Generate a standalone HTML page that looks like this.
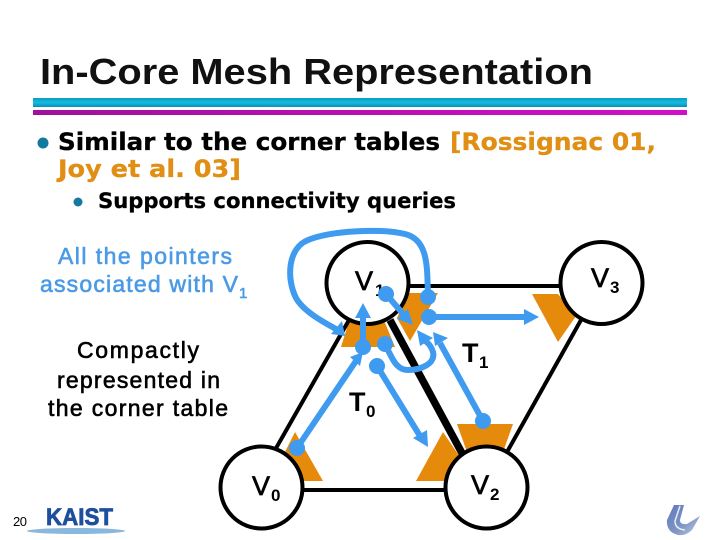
<!DOCTYPE html>
<html><head><meta charset="utf-8"><style>
html,body{margin:0;padding:0;background:#fff;width:720px;height:540px;overflow:hidden}
svg{display:block}
.v{font-family:"Liberation Sans",sans-serif;font-weight:bold;fill:#000}
.n{font-family:"Liberation Sans",sans-serif;font-weight:normal;fill:#000;stroke:#000;stroke-width:.7}
.d{font-family:"DejaVu Sans",sans-serif;font-weight:bold;stroke-width:.3}
.l{font-family:"Liberation Sans",sans-serif;stroke-width:.6}
</style></head><body>
<svg width="720" height="540" viewBox="0 0 720 540" xmlns="http://www.w3.org/2000/svg">
<defs>
<linearGradient id="c" x1="0" y1="0" x2="0" y2="1"><stop offset="0" stop-color="#0a9cc0"/><stop offset=".5" stop-color="#16bbe0"/><stop offset="1" stop-color="#0a90b8"/></linearGradient>
<linearGradient id="m" x1="0" y1="0" x2="1" y2="0"><stop offset="0" stop-color="#a0109a"/><stop offset="1" stop-color="#d010c8"/></linearGradient>
<linearGradient id="lg" x1="0" y1="0" x2="1" y2="1"><stop offset="0" stop-color="#5f78bc"/><stop offset=".6" stop-color="#8298c6"/><stop offset="1" stop-color="#c4d0e4"/></linearGradient>
</defs>
<text x="40" y="84" font-family="Liberation Sans" font-weight="bold" font-size="36" fill="#111" textLength="553" lengthAdjust="spacingAndGlyphs">In-Core Mesh Representation</text>
<rect x="33" y="98" width="654" height="9" fill="url(#c)"/>
<rect x="33" y="110" width="654" height="5" fill="url(#m)"/>
<circle cx="43" cy="143" r="5.5" fill="#15799f"/>
<text class="d" x="58" y="150" font-size="24" fill="#000" stroke="#000" textLength="382" lengthAdjust="spacingAndGlyphs">Similar to the corner tables</text>
<text class="d" x="450" y="150" font-size="24" fill="#e08e14" stroke="#e08e14" textLength="206" lengthAdjust="spacingAndGlyphs">[Rossignac 01,</text>
<text class="d" x="58" y="177" font-size="24" fill="#e08e14" stroke="#e08e14" textLength="183" lengthAdjust="spacingAndGlyphs">Joy et al. 03]</text>
<circle cx="78" cy="202" r="4.5" fill="#15799f"/>
<text class="d" x="98" y="208" font-size="21" fill="#000" stroke="#000" textLength="358" lengthAdjust="spacingAndGlyphs">Supports connectivity queries</text>

<text class="l" x="58" y="264" font-size="23" fill="#4a9ae6" stroke="#4a9ae6" textLength="174" lengthAdjust="spacing">All the pointers</text>
<text class="l" x="40" y="292" font-size="23" fill="#4a9ae6" stroke="#4a9ae6" textLength="198" lengthAdjust="spacing">associated with V</text>
<text class="l" x="239" y="298" font-size="15" fill="#4a9ae6" stroke="#4a9ae6">1</text>
<text class="l" x="77" y="358" font-size="23" fill="#000" stroke="#000" textLength="122" lengthAdjust="spacing">Compactly</text>
<text class="l" x="57" y="388" font-size="23" fill="#000" stroke="#000" textLength="163" lengthAdjust="spacing">represented in</text>
<text class="l" x="48" y="416" font-size="23" fill="#000" stroke="#000" textLength="180" lengthAdjust="spacing">the corner table</text>

<g fill="#e68a0c">
<polygon points="341,347 395,347 383,318 350,318"/>
<polygon points="397,318 410,341 438,293 408,293"/>
<polygon points="532,294 558,342 576,316 558,294"/>
<polygon points="457,424 513,424 503,452 467,452"/>
<polygon points="416,481 443,432 462,460 447,481"/>
<polygon points="295,432 323,481 300,481 285,452"/>
</g>
<g stroke="#000" fill="none">
<line x1="405" y1="286" x2="565" y2="286" stroke-width="4"/>
<line x1="349" y1="320" x2="275" y2="450" stroke-width="4"/>
<line x1="390" y1="320" x2="463" y2="455" stroke-width="7.5"/>
<line x1="581" y1="320" x2="507" y2="452" stroke-width="4"/>
<line x1="300" y1="490" x2="450" y2="490" stroke-width="4"/>
</g>
<g fill="#fff" stroke="#000" stroke-width="4">
<circle cx="367.500" cy="283" r="41"/>
<circle cx="601.500" cy="283" r="41"/>
<circle cx="261.500" cy="487.500" r="41"/>
<circle cx="486.500" cy="487.500" r="41"/>
</g>
<text class="n" x="355" y="290" font-size="27">V</text><text class="v" x="375" y="296" font-size="17">1</text>
<text class="n" x="591" y="287" font-size="27">V</text><text class="v" x="610" y="293" font-size="17">3</text>
<text class="n" x="252" y="495" font-size="27">V</text><text class="v" x="271" y="501" font-size="17">0</text>
<text class="n" x="471" y="494" font-size="27">V</text><text class="v" x="490" y="500" font-size="17">2</text>
<text class="v" x="462" y="362" font-size="27">T</text><text class="v" x="479" y="368" font-size="17">1</text>
<text class="v" x="349" y="411" font-size="27">T</text><text class="v" x="366" y="417" font-size="17">0</text>

<g stroke="#3f9bf0" stroke-width="6" fill="none">
<path d="M428 297 C427 268 429 240 405 234 C380 228 330 231 308 240 C288 248 286 278 296 298 C304 312 325 323 336 329"/>
<line x1="386" y1="294" x2="404" y2="315"/>
<line x1="429" y1="317" x2="525" y2="317"/>
<line x1="363" y1="347" x2="363" y2="315"/>
<line x1="297" y1="448" x2="356" y2="361"/>
<path d="M385 344 C392 358 396 370 408 370 C420 370 436 364 433 352 C431 345 427 342 424 340"/>
<line x1="377" y1="366" x2="420" y2="436"/>
<line x1="483" y1="421" x2="440" y2="343"/>
</g>
<g fill="#3f9bf0">
<circle cx="428" cy="297" r="8"/>
<circle cx="386" cy="294" r="8"/>
<circle cx="429" cy="317" r="8"/>
<circle cx="363" cy="347" r="8"/>
<circle cx="297" cy="448" r="8"/>
<circle cx="385" cy="344" r="8"/>
<circle cx="377" cy="366" r="8"/>
<circle cx="483" cy="421" r="8"/>
<polygon points="345,336 331,334 342,321"/>
<polygon points="413,325 397,319 408,309"/>
<polygon points="539,317 524,309 524,325"/>
<polygon points="363,303 355,318 371,318"/>
<polygon points="363,352 350,357 360,366"/>
<polygon points="417,330 420,346 433,338"/>
<polygon points="428,447 413,438 427,430"/>
<polygon points="433,332 435,346 448,338"/>
</g>

<text x="13" y="526" font-family="Liberation Sans" font-size="13" letter-spacing="-.5" fill="#000">20</text>
<text x="46" y="525" font-family="Liberation Sans" font-weight="bold" font-size="24" fill="#1f4f9c" stroke="#1f4f9c" stroke-width=".8" textLength="67" lengthAdjust="spacingAndGlyphs">KAIST</text>
<ellipse cx="76" cy="531" rx="49" ry="3" fill="#8ab8dd"/>

<path d="M674 505 L684 505 L680 520 Q680 525 687 524 L700 516 L692 530 Q686 536 678 535 Q666 532 667 520 Z" fill="url(#lg)"/>
<path d="M680 506 L675 521 Q675 529 685 530" fill="none" stroke="#e8eef6" stroke-width="1.5"/>
</svg>
</body></html>
